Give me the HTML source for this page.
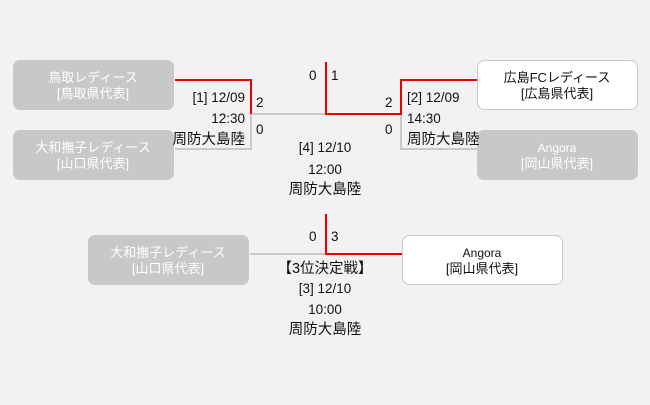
<!DOCTYPE html>
<html><head><meta charset="utf-8"><style>
html,body{margin:0;padding:0;background:#f3f1f4;}
svg{display:block;}
text{font-family:"Liberation Sans","Noto Sans CJK JP",sans-serif;font-size:13.5px;fill:#111;}
.w{fill:#fff;}
.c{font-size:14.5px;}
.b{font-size:13px;}
.a{font-size:12px;}
</style></head><body>
<svg width="650" height="405" viewBox="0 0 650 405">
<rect width="650" height="405" fill="#f3f1f4"/>
<rect x="13" y="60" width="161" height="50" rx="7" fill="#c8c8c6"/>
<rect x="13" y="130" width="161" height="50" rx="7" fill="#c8c8c6"/>
<rect x="477.5" y="60.5" width="160" height="49" rx="7" fill="#fff" stroke="#c8c8c8"/>
<rect x="477" y="130" width="161" height="50" rx="7" fill="#c8c8c6"/>
<rect x="88" y="235" width="161" height="50" rx="7" fill="#c8c8c6"/>
<rect x="402.5" y="235.5" width="160" height="49" rx="7" fill="#fff" stroke="#c8c8c8"/>
<g fill="none" stroke-width="2">
<polyline points="175,149 251,149 251,114 326,114" stroke="#c8c8c6"/>
<polyline points="477,149 401,149 401,114" stroke="#c8c8c6"/>
<polyline points="175,80 251,80 251,114" stroke="#e00"/>
<polyline points="326,62 326,114 401,114 401,80 477,80" stroke="#e00"/>
<polyline points="250,254 326,254" stroke="#c8c8c6"/>
<polyline points="326,214 326,254 402,254" stroke="#e00"/>
</g>
<text class="w b" x="93" y="82" text-anchor="middle">鳥取レディース</text>
<text class="w b" x="93" y="98" text-anchor="middle">[鳥取県代表]</text>
<text class="w b" x="93" y="152" text-anchor="middle">大和撫子レディース</text>
<text class="w b" x="93" y="168" text-anchor="middle">[山口県代表]</text>
<text class="b" x="557" y="82" text-anchor="middle">広島FCレディース</text>
<text class="b" x="557" y="98" text-anchor="middle">[広島県代表]</text>
<text class="w a" x="557" y="152" text-anchor="middle">Angora</text>
<text class="w b" x="557" y="168" text-anchor="middle">[岡山県代表]</text>
<text class="w b" x="168" y="257" text-anchor="middle">大和撫子レディース</text>
<text class="w b" x="168" y="273" text-anchor="middle">[山口県代表]</text>
<text class="a" x="482" y="257" text-anchor="middle">Angora</text>
<text class="b" x="482" y="273" text-anchor="middle">[岡山県代表]</text>
<text x="309" y="80">0</text><text x="331" y="80">1</text>
<text x="256" y="107">2</text><text x="256" y="134">0</text>
<text x="385" y="107">2</text><text x="385" y="134">0</text>
<text x="245" y="102" text-anchor="end">[1] 12/09</text>
<text x="245" y="123" text-anchor="end">12:30</text>
<text class="c" x="245" y="144" text-anchor="end">周防大島陸</text>
<text x="407" y="102">[2] 12/09</text>
<text x="407" y="123">14:30</text>
<text class="c" x="407" y="144">周防大島陸</text>
<text x="325" y="152" text-anchor="middle">[4] 12/10</text>
<text x="325" y="174" text-anchor="middle">12:00</text>
<text class="c" x="325" y="194" text-anchor="middle">周防大島陸</text>
<text x="309" y="241">0</text><text x="331" y="241">3</text>
<text class="c" x="325" y="273" text-anchor="middle">【3位決定戦】</text>
<text x="325" y="293" text-anchor="middle">[3] 12/10</text>
<text x="325" y="314" text-anchor="middle">10:00</text>
<text class="c" x="325" y="334" text-anchor="middle">周防大島陸</text>
</svg>
</body></html>
